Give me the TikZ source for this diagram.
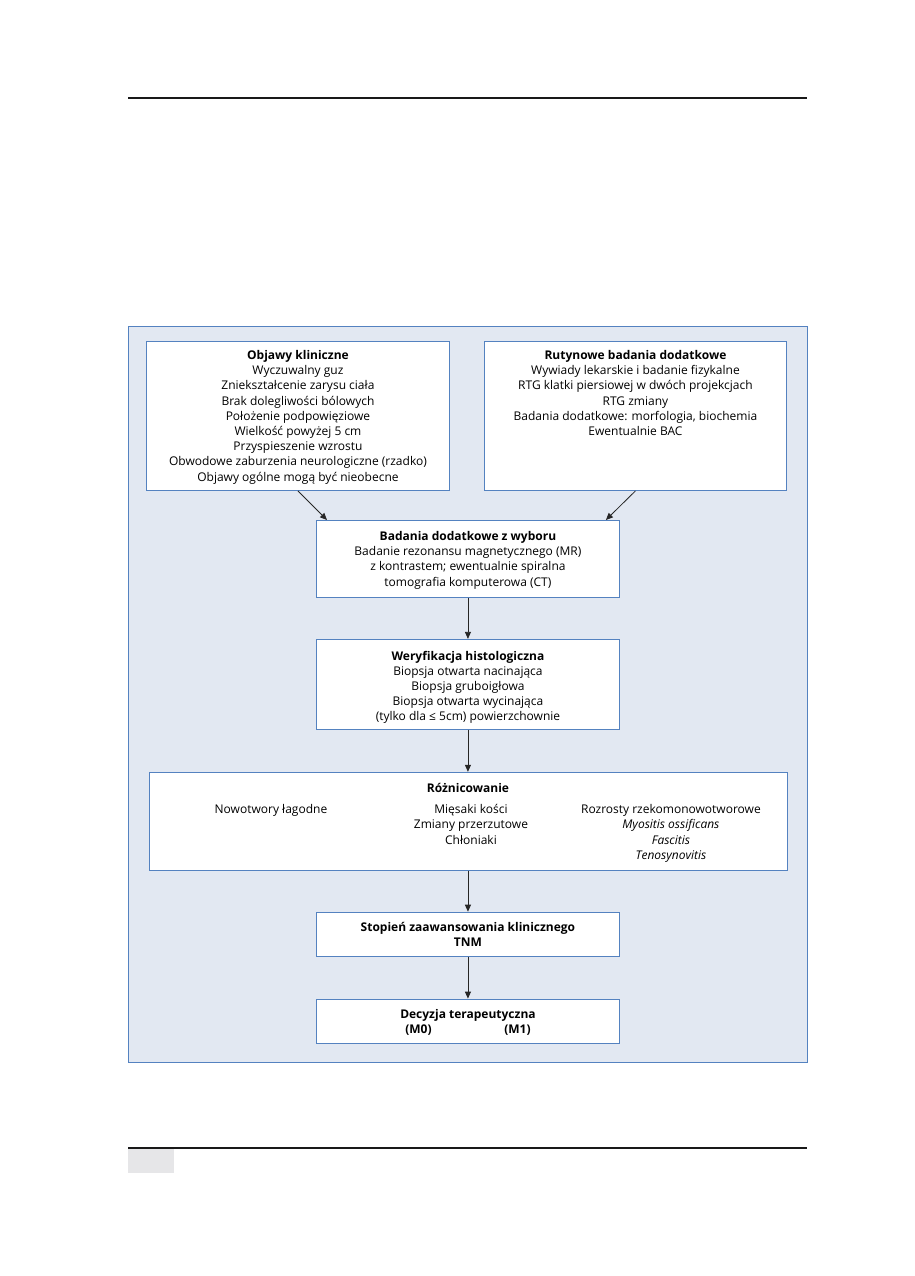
\documentclass[tikz,border=0pt]{standalone}
\usepackage{fontspec}
\setmainfont{Open Sans}
\usetikzlibrary{positioning,arrows.meta,calc}
\definecolor{panelfill}{RGB}{226,232,242}
\definecolor{frameblue}{RGB}{84,130,192}
\definecolor{tabgray}{RGB}{230,230,232}

\begin{document}
\begin{tikzpicture}[x=1pt, y=-1pt,
  >={Triangle[length=7pt,width=6pt]},
  box/.style={draw=frameblue, fill=white, line width=0.9pt, inner sep=0pt,
              font=\fontsize{12}{15.2}\selectfont},
  arr/.style={->, line width=0.8pt, black!85}]
  \useasboundingbox (0,0) rectangle (914,1276);
  % page rules
  \draw[line width=1.3pt, black!90] (128,98) -- (807,98);
  \draw[line width=1.3pt, black!90] (128,1148) -- (807,1148);
  \fill[tabgray] (128,1149) rectangle (174,1173);
  % panel
  \draw[frameblue, fill=panelfill, line width=0.8pt] (128,326) rectangle (807,1062);
  \node[box, anchor=north west] (objawy) at (146,341) {\parbox[c][149pt][t]{303pt}{\vspace*{9pt}\centering
    \textbf{Objawy kliniczne}\\ Wyczuwalny guz\\ Zniekształcenie zarysu ciała\\
    Brak dolegliwości bólowych\\ Położenie podpowięziowe\\ Wielkość powyżej 5 cm\\
    Przyspieszenie wzrostu\\ Obwodowe zaburzenia neurologiczne (rzadko)\\
    Objawy ogólne mogą być nieobecne}};
  \node[box, anchor=north west] (rutyna) at (484,341) {\parbox[c][149pt][t]{302pt}{\vspace*{9pt}\centering
    \textbf{Rutynowe badania dodatkowe}\\ Wywiady lekarskie i badanie fizykalne\\
    RTG klatki piersiowej w dwóch projekcjach\\ RTG zmiany\\
    Badania dodatkowe: morfologia, biochemia\\ Ewentualnie BAC}};
  \node[box, anchor=north west] (wybor) at (316,520) {\parbox[c][77pt][t]{303pt}{\vspace*{11pt}\centering
    \textbf{Badania dodatkowe z wyboru}\\ Badanie rezonansu magnetycznego (MR)\\
    z kontrastem; ewentualnie spiralna\\ tomografia komputerowa (CT)}};
  \node[box, below=41pt of wybor] (histo) {\parbox[c][90pt][t]{303pt}{\vspace*{11.5pt}\centering
    \textbf{Weryfikacja histologiczna}\\ Biopsja otwarta nacinająca\\ Biopsja gruboigłowa\\
    Biopsja otwarta wycinająca\\ (tylko dla ≤ 5cm) powierzchownie}};
  \node[box, below=42pt of histo] (rozn) {\parbox[c][98pt][t]{638pt}{\vspace*{11pt}\centering
    \textbf{Różnicowanie}\par\vspace{6pt}
    \hspace*{6pt}\parbox[t]{200pt}{\centering Nowotwory łagodne}%
    \parbox[t]{200pt}{\centering Mięsaki kości\\ Zmiany przerzutowe\\ Chłoniaki}%
    \parbox[t]{200pt}{\centering Rozrosty rzekomonowotworowe\\ \textit{Myositis ossificans}\\
      \textit{Fascitis}\\ \textit{Tenosynovitis}}}};
  \node[box, below=41pt of rozn] (tnm) {\parbox[c][44pt][t]{303pt}{\vspace*{10pt}\centering
    \textbf{Stopień zaawansowania klinicznego}\\ \textbf{TNM}}};
  \node[box, below=42pt of tnm] (decyzja) {\parbox[c][44pt][t]{303pt}{\vspace*{10.5pt}\centering
    \textbf{Decyzja terapeutyczna}\\ \textbf{\makebox[99pt]{(M0)}\makebox[99pt]{(M1)}}}};
  % connectors
  \draw[arr] (objawy.south) -- ([xshift=11pt]wybor.north west);
  \draw[arr] (rutyna.south) -- ([xshift=-14pt]wybor.north east);
  \draw[arr] (wybor) -- (histo);
  \draw[arr] (histo) -- (rozn);
  \draw[arr] (rozn) -- (tnm);
  \draw[arr] (tnm) -- (decyzja);
\end{tikzpicture}
\end{document}
